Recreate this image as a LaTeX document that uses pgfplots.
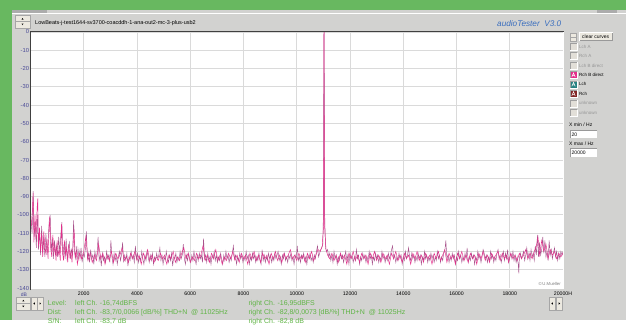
\documentclass[border=0pt]{standalone}
\usepackage{fontspec}
\setmainfont{Liberation Sans}
\usepackage{pgfplots}
\pgfplotsset{compat=1.18}
\definecolor{bggreen}{RGB}{104,184,96}
\definecolor{panel}{RGB}{210,210,208}
\definecolor{gridc}{RGB}{218,218,218}
\definecolor{ylab}{RGB}{72,72,150}
\definecolor{pinkc}{RGB}{228,46,138}
\definecolor{mauve}{RGB}{168,84,140}
\definecolor{txtgreen}{RGB}{96,180,70}
\definecolor{atblue}{RGB}{58,110,190}
\definecolor{dis}{RGB}{150,150,150}
\definecolor{boxoff}{RGB}{226,223,216}
\definecolor{btn}{RGB}{236,233,224}
\definecolor{tealc}{RGB}{40,130,130}
\definecolor{dred}{RGB}{130,40,40}
\begin{document}
\begin{tikzpicture}
\begin{scope}[x=1pt,y=-1pt]
\useasboundingbox (0,0) rectangle (626,320);
\clip (0,0) rectangle (626,320);
\fill[bggreen] (0,0) rectangle (626,320);
\fill[panel] (12,10) rectangle (626,320);
\fill[gray!65] (12,10) rectangle (47,12.5);
\fill[gray!65] (597,10) rectangle (617,12.5);
\draw[white,line width=0.8pt] (12,13.5) -- (626,13.5);
% top spinner
\fill[btn] (15,15) rectangle (30,28);
\draw[gray!70,line width=0.4pt] (15,15) rectangle (30,28);
\draw[gray!70,line width=0.4pt] (15,21.5) -- (30,21.5);
\fill[black] (21.5,19.5) -- (23.5,19.5) -- (22.5,18) -- cycle;
\fill[black] (21.5,23.5) -- (23.5,23.5) -- (22.5,25) -- cycle;
\node[anchor=base west,inner sep=0pt,font=\fontsize{5.5}{6}\selectfont] at (35,24) {LowBeats-j-test1644-sv3700-coacddh-1-ana-out2-mc-3-plus-usb2};
\node[anchor=base west,inner sep=0pt,text=atblue,font=\fontsize{8.2}{9}\selectfont\itshape] at (497,26.5) {audioTester\ \ V3.0};
\end{scope}

\begin{axis}[at={(31pt,-288pt)}, anchor=south west, scale only axis,
  width=532pt, height=256pt,
  xmin=20, xmax=20000, ymin=-140, ymax=0,
  axis line style={draw=none},
  axis background/.style={fill=white},
  scaled x ticks=false, scaled y ticks=false,
  xtick={2000,4000,...,20000},
  xticklabels={2000,4000,6000,8000,10000,12000,14000,16000,18000,20000H},
  ytick={-140,-130,...,0},
  yticklabels={-140,-130,-120,-110,-100,-90,-80,-70,-60,-50,-40,-30,-20,-10,0},
  grid=major, grid style={gridc,line width=0.9pt},
  major tick length=0pt, tick style={draw=none},
  xticklabel style={font=\fontsize{5.2}{6}\selectfont,anchor=north,inner sep=0pt,yshift=-3.6pt},
  yticklabel style={font=\fontsize{5.8}{6}\selectfont,text=ylab,anchor=east,inner sep=0pt,xshift=-1.8pt},
]
\addplot[mauve,line width=0.45pt] coordinates {
(20,-103)(60,-110)(100,-87)(140,-112)(180,-104)(220,-118)(260,-100)(300,-119)(340,-109)(380,-122)
(420,-106)(460,-121)(500,-112)(540,-123)(580,-110)(620,-122)(660,-115)(700,-104)(740,-100)(780,-120)
(820,-113)(860,-124)(900,-114)(940,-122)(980,-117)(1020,-123)(1060,-112)(1100,-121)(1140,-111)(1180,-104)
(1220,-122)(1260,-116)(1300,-124)(1340,-113)(1380,-125)(1420,-118)(1460,-115)(1500,-124)(1540,-119)(1580,-122)
(1620,-103)(1660,-121)(1700,-124)(1740,-117)(1780,-125)(1820,-119)(1860,-124)(1900,-118)(1940,-126)(1980,-121)
(2020,-123)(2060,-119)(2100,-109)(2140,-124)(2180,-121)(2220,-126)(2260,-119)(2300,-124)(2340,-122)(2380,-127)
(2420,-120)(2460,-124)(2500,-121)(2540,-112)(2580,-125)(2620,-122)(2660,-128)(2700,-121)(2740,-125)(2780,-123)
(2820,-126)(2860,-120)(2900,-124)(2940,-122)(2980,-126)(3020,-114)(3060,-123)(3100,-127)(3140,-121)(3180,-125)
(3220,-122)(3260,-127)(3300,-123)(3340,-120)(3380,-125)(3420,-122)(3460,-115)(3500,-126)(3540,-122)(3580,-125)
(3620,-121)(3660,-128)(3700,-123)(3740,-125)(3780,-120)(3820,-124)(3860,-122)(3900,-126)(3940,-117)(3980,-124)
(4020,-121)(4060,-126)(4100,-123)(4140,-125)(4180,-120)(4220,-124)(4260,-127)(4300,-122)(4340,-125)(4380,-120)
(4420,-123)(4460,-126)(4500,-122)(4540,-125)(4580,-121)(4620,-127)(4660,-123)(4700,-125)(4740,-121)(4780,-124)
(4820,-122)(4860,-118)(4900,-125)(4940,-122)(4980,-127)(5020,-123)(5060,-125)(5100,-120)(5140,-124)(5180,-126)
(5220,-122)(5260,-125)(5300,-121)(5340,-128)(5380,-123)(5420,-124)(5460,-121)(5500,-126)(5540,-123)(5580,-125)
(5620,-120)(5660,-124)(5700,-122)(5740,-116)(5780,-124)(5820,-127)(5860,-122)(5900,-125)(5940,-121)(5980,-124)
(6020,-126)(6060,-122)(6100,-125)(6140,-120)(6180,-124)(6220,-127)(6260,-122)(6300,-125)(6340,-121)(6380,-124)
(6420,-122)(6460,-126)(6500,-113)(6540,-124)(6580,-122)(6620,-126)(6660,-121)(6700,-125)(6740,-123)(6780,-127)
(6820,-122)(6860,-124)(6900,-120)(6940,-125)(6980,-122)(7020,-126)(7060,-123)(7100,-125)(7140,-121)(7180,-124)
(7220,-127)(7260,-122)(7300,-125)(7340,-120)(7380,-124)(7420,-122)(7460,-126)(7500,-123)(7540,-125)(7580,-121)
(7620,-117)(7660,-124)(7700,-122)(7740,-127)(7780,-123)(7820,-125)(7860,-121)(7900,-124)(7940,-122)(7980,-126)
(8020,-123)(8060,-125)(8100,-120)(8140,-124)(8180,-122)(8220,-127)(8260,-123)(8300,-125)(8340,-121)(8380,-124)
(8420,-122)(8460,-126)(8500,-123)(8540,-125)(8580,-121)(8620,-124)(8660,-127)(8700,-119)(8740,-125)(8780,-122)
(8820,-126)(8860,-123)(8900,-125)(8940,-121)(8980,-124)(9020,-122)(9060,-126)(9100,-123)(9140,-125)(9180,-121)
(9220,-124)(9260,-122)(9300,-120)(9340,-125)(9380,-123)(9420,-127)(9460,-122)(9500,-124)(9540,-121)(9580,-125)
(9620,-123)(9660,-126)(9700,-122)(9740,-124)(9780,-121)(9820,-125)(9860,-123)(9900,-127)(9940,-122)(9980,-124)
(10020,-117)(10060,-125)(10100,-123)(10140,-126)(10180,-122)(10220,-124)(10260,-121)(10300,-125)(10340,-123)(10380,-127)
(10420,-122)(10460,-124)(10500,-121)(10540,-125)(10580,-123)(10620,-126)(10660,-122)(10700,-124)(10740,-120)(10780,-117)
(10820,-123)(10860,-121)(10900,-119)(10940,-118)(10980,-116)(11000,-100)(11020,-2)(11025,0)(11030,-2)(11050,-100)
(11080,-118)(11120,-120)(11160,-119)(11200,-123)(11240,-121)(11280,-125)(11320,-122)(11360,-126)(11400,-120)(11440,-124)
(11480,-122)(11520,-127)(11560,-123)(11600,-125)(11640,-121)(11680,-124)(11720,-122)(11760,-126)(11800,-123)(11840,-120)
(11880,-125)(11920,-122)(11960,-127)(12000,-121)(12040,-124)(12080,-122)(12120,-126)(12160,-123)(12200,-125)(12240,-119)
(12280,-124)(12320,-122)(12360,-127)(12400,-123)(12440,-125)(12480,-121)(12520,-124)(12560,-122)(12600,-126)(12640,-123)
(12680,-125)(12720,-120)(12760,-124)(12800,-122)(12840,-127)(12880,-123)(12920,-125)(12960,-121)(13000,-124)(13040,-122)
(13080,-126)(13120,-123)(13160,-125)(13200,-120)(13240,-124)(13280,-122)(13320,-126)(13360,-123)(13400,-125)(13440,-121)
(13480,-124)(13520,-122)(13560,-119)(13600,-117)(13640,-124)(13680,-122)(13720,-126)(13760,-123)(13800,-125)(13840,-121)
(13880,-124)(13920,-122)(13960,-127)(14000,-123)(14040,-125)(14080,-120)(14120,-124)(14160,-122)(14200,-118)(14240,-123)
(14280,-125)(14320,-121)(14360,-124)(14400,-122)(14440,-126)(14480,-123)(14520,-125)(14560,-121)(14600,-124)(14640,-122)
(14680,-127)(14720,-123)(14760,-125)(14800,-120)(14840,-124)(14880,-122)(14920,-126)(14960,-123)(15000,-125)(15040,-121)
(15080,-124)(15120,-122)(15160,-126)(15200,-123)(15240,-125)(15280,-120)(15320,-124)(15360,-122)(15400,-126)(15440,-123)
(15480,-125)(15520,-121)(15560,-120)(15600,-114)(15640,-124)(15680,-122)(15720,-126)(15760,-123)(15800,-125)(15840,-121)
(15880,-124)(15920,-122)(15960,-127)(16000,-123)(16040,-125)(16080,-120)(16120,-124)(16160,-122)(16200,-126)(16240,-123)
(16280,-125)(16320,-121)(16360,-124)(16400,-118)(16440,-126)(16480,-123)(16520,-125)(16560,-121)(16600,-124)(16640,-122)
(16680,-127)(16720,-123)(16760,-125)(16800,-120)(16840,-124)(16880,-122)(16920,-126)(16960,-123)(17000,-119)(17040,-121)
(17080,-124)(17120,-122)(17160,-126)(17200,-123)(17240,-125)(17280,-120)(17320,-124)(17360,-122)(17400,-126)(17440,-123)
(17480,-125)(17520,-121)(17560,-119)(17600,-124)(17640,-122)(17680,-126)(17720,-123)(17760,-120)(17800,-125)(17840,-121)
(17880,-124)(17920,-119)(17960,-126)(18000,-123)(18040,-121)(18080,-124)(18120,-120)(18160,-125)(18200,-122)(18240,-126)
(18280,-123)(18320,-127)(18340,-132)(18360,-124)(18400,-121)(18440,-124)(18480,-122)(18520,-120)(18560,-125)(18600,-122)
(18640,-118)(18680,-124)(18720,-121)(18760,-125)(18800,-119)(18840,-123)(18880,-121)(18920,-125)(18960,-117)(19000,-122)
(19040,-111)(19080,-123)(19120,-115)(19160,-122)(19200,-119)(19240,-112)(19280,-121)(19320,-114)(19360,-123)(19400,-120)
(19440,-125)(19480,-114)(19520,-122)(19560,-119)(19600,-124)(19640,-121)(19680,-118)(19720,-123)(19760,-120)(19800,-125)
(19840,-121)(19880,-124)(19920,-120)(19960,-122)(20000,-120)
};
\addplot[pinkc,line width=0.45pt] coordinates {
(30,-106)(70,-98)(100,-88)(130,-115)(170,-100)(210,-113)(250,-96)(275,-91)(300,-117)(340,-107)
(380,-120)(420,-110)(460,-123)(500,-109)(540,-118)(580,-121)(620,-113)(660,-124)(700,-108)(725,-101)
(760,-118)(800,-123)(840,-111)(880,-121)(920,-117)(960,-125)(1000,-114)(1040,-122)(1080,-119)(1120,-125)
(1165,-105)(1200,-120)(1240,-125)(1280,-114)(1320,-122)(1360,-118)(1400,-126)(1440,-116)(1480,-123)(1520,-120)
(1560,-126)(1600,-117)(1640,-108)(1680,-123)(1720,-120)(1760,-127)(1840,-121)(1920,-124)(2000,-120)(2080,-112)
(2160,-125)(2240,-121)(2320,-126)(2400,-122)(2480,-125)(2560,-116)(2640,-124)(2720,-121)(2800,-127)(2880,-122)
(2960,-125)(3040,-120)(3120,-126)(3200,-121)(3280,-124)(3360,-122)(3440,-118)(3520,-125)(3600,-123)(3680,-126)
(3760,-121)(3840,-124)(3920,-120)(4000,-125)(4080,-122)(4160,-127)(4240,-121)(4320,-124)(4400,-119)(4480,-125)
(4560,-122)(4640,-126)(4720,-123)(4800,-125)(4880,-121)(4960,-124)(5040,-122)(5120,-127)(5200,-122)(5280,-124)
(5360,-120)(5440,-126)(5520,-123)(5600,-125)(5680,-121)(5760,-118)(5840,-124)(5920,-121)(6000,-126)(6080,-123)
(6160,-125)(6240,-121)(6320,-124)(6400,-122)(6480,-117)(6560,-125)(6640,-122)(6720,-126)(6800,-121)(6880,-124)
(6960,-119)(7040,-125)(7120,-122)(7200,-127)(7280,-123)(7360,-125)(7440,-121)(7520,-124)(7600,-120)(7680,-125)
(7760,-122)(7840,-126)(7920,-121)(8000,-124)(8080,-122)(8160,-127)(8240,-121)(8320,-124)(8400,-120)(8480,-125)
(8560,-122)(8640,-126)(8720,-121)(8800,-124)(8880,-122)(8960,-127)(9040,-121)(9120,-124)(9200,-120)(9280,-125)
(9360,-122)(9440,-126)(9520,-121)(9600,-124)(9680,-122)(9760,-119)(9840,-124)(9920,-122)(10000,-125)(10080,-121)
(10160,-124)(10240,-122)(10320,-126)(10400,-121)(10480,-124)(10560,-120)(10640,-125)(10720,-122)(10800,-119)(10880,-120)
(10960,-117)(11010,-105)(11020,-3)(11025,0)(11030,-3)(11040,-105)(11100,-119)(11160,-122)(11240,-124)(11320,-121)
(11400,-125)(11480,-122)(11560,-126)(11640,-121)(11720,-124)(11800,-122)(11880,-127)(11960,-121)(12040,-124)(12120,-120)
(12200,-125)(12280,-122)(12360,-126)(12440,-121)(12520,-124)(12600,-122)(12680,-127)(12760,-121)(12840,-124)(12920,-120)
(13000,-125)(13080,-122)(13160,-126)(13240,-121)(13320,-124)(13400,-122)(13480,-127)(13560,-121)(13640,-124)(13720,-120)
(13800,-125)(13880,-122)(13960,-126)(14040,-121)(14120,-124)(14200,-122)(14280,-127)(14360,-121)(14440,-124)(14520,-120)
(14600,-125)(14680,-122)(14760,-126)(14840,-121)(14920,-124)(15000,-122)(15080,-127)(15160,-121)(15240,-124)(15320,-120)
(15400,-125)(15480,-122)(15560,-119)(15640,-126)(15720,-121)(15800,-124)(15880,-122)(15960,-127)(16040,-121)(16120,-124)
(16200,-120)(16280,-125)(16360,-122)(16440,-126)(16520,-121)(16600,-124)(16680,-122)(16760,-127)(16840,-121)(16920,-124)
(17000,-120)(17080,-125)(17160,-122)(17240,-126)(17320,-121)(17400,-124)(17480,-122)(17560,-120)(17640,-125)(17720,-121)
(17800,-124)(17880,-122)(17960,-126)(18040,-121)(18120,-124)(18200,-122)(18280,-125)(18360,-121)(18440,-124)(18520,-122)
(18600,-119)(18680,-124)(18760,-121)(18840,-124)(18920,-120)(19000,-117)(19060,-112)(19120,-122)(19200,-114)(19280,-120)
(19360,-116)(19440,-124)(19520,-119)(19600,-122)(19680,-120)(19760,-124)(19840,-121)(19920,-123)(20000,-121)
};
\end{axis}

\begin{scope}[x=1pt,y=-1pt]
% plot frame
\draw[black!75,line width=1pt] (30.5,290) -- (30.5,31.5) -- (563.5,31.5);
\draw[white,line width=0.8pt] (563.6,32) -- (563.6,288.5) -- (31,288.5);
\node[anchor=east,inner sep=0pt,text=gray,font=\fontsize{4.3}{5}\selectfont] at (561,283.7) {\copyright\,U.Mueller};
\node[inner sep=0pt,text=ylab,font=\fontsize{5}{6}\selectfont] at (24,294.5) {dB};
% right panel
\fill[btn] (570,33) rectangle (576.5,41);
\draw[gray!70,line width=0.4pt] (570,33) rectangle (576.5,41) (570,37) -- (576.5,37);
\fill[btn] (579,32.7) rectangle (612.5,40.7);
\draw[gray!80,line width=0.5pt] (579,40.7) -- (612.5,40.7) -- (612.5,32.7);
\draw[white,line width=0.5pt] (579,40.7) -- (579,32.7) -- (612.5,32.7);
\node[inner sep=0pt,font=\fontsize{5}{6}\selectfont] at (595.7,36.8) {clear curves};
\foreach \yy/\lab/\fc/\tc in {46.7/Lch A/boxoff/dis, 56/Rch A/boxoff/dis, 65.7/Lch B direct/boxoff/dis, 75/Rch B direct/pinkc/black, 84.3/Lch/tealc/black, 93.7/Rch/dred/black, 103.3/unknown/boxoff/dis, 113/unknown/boxoff/dis}{
  \fill[\fc] (570,\yy-3.5) rectangle (577,\yy+3.5);
  \draw[gray!75,line width=0.4pt] (570,\yy+3.5) -- (570,\yy-3.5) -- (577,\yy-3.5);
  \draw[white,line width=0.4pt] (577,\yy-3.5) -- (577,\yy+3.5) -- (570,\yy+3.5);
  \node[anchor=west,inner sep=0pt,text=\tc,font=\fontsize{4.5}{5}\selectfont] at (579,\yy) {\lab};
}
\foreach \yy in {75,84.3,93.7}{
  \draw[white,line width=0.5pt] (571.8,\yy+2) -- (573.5,\yy-2) -- (575.2,\yy+2) (572.5,\yy+0.6) -- (574.5,\yy+0.6);
}
\node[anchor=west,inner sep=0pt,font=\fontsize{5}{6}\selectfont] at (569,125) {X min / Hz};
\fill[white] (570,130) rectangle (597,138.3);
\draw[gray!80,line width=0.5pt] (570,138.3) -- (570,130) -- (597,130);
\node[anchor=west,inner sep=0pt,font=\fontsize{5}{6}\selectfont] at (571.5,134.3) {20};
\node[anchor=west,inner sep=0pt,font=\fontsize{5}{6}\selectfont] at (569,144) {X max / Hz};
\fill[white] (570,148.3) rectangle (597,157.3);
\draw[gray!80,line width=0.5pt] (570,157.3) -- (570,148.3) -- (597,148.3);
\node[anchor=west,inner sep=0pt,font=\fontsize{5}{6}\selectfont] at (571.5,152.8) {20000};
% bottom buttons
\fill[btn] (16,297) rectangle (30.5,310);
\draw[gray!70,line width=0.4pt] (16,297) rectangle (30.5,310) (16,303.5) -- (30.5,303.5);
\fill[black] (22.3,301.3) -- (24.3,301.3) -- (23.3,299.8) -- cycle;
\fill[black] (22.3,305.7) -- (24.3,305.7) -- (23.3,307.2) -- cycle;
\foreach \xa in {31,37.3,549,556.5}{
  \fill[btn] (\xa,297) rectangle (\xa+6,310);
  \draw[gray!70,line width=0.4pt] (\xa,297) rectangle (\xa+6,310);
}
\foreach \xa in {31,549}{
  \fill[black] (\xa+3.8,302.3) -- (\xa+3.8,304.7) -- (\xa+2.4,303.5) -- cycle;
}
\foreach \xa in {37.3,556.5}{
  \fill[black] (\xa+2.2,302.3) -- (\xa+2.2,304.7) -- (\xa+3.6,303.5) -- cycle;
}
% status text
\begin{scope}[every node/.style={anchor=base west,inner sep=0pt,text=txtgreen,font=\fontsize{7}{8}\selectfont}]
\node at (47.7,305) {Level:};
\node at (75,305) {left Ch. -16,74dBFS};
\node at (248.3,305) {right Ch. -16,95dBFS};
\node at (47.7,314.3) {Dist:};
\node at (75,314.3) {left Ch. -83,7/0,0066 [dB/\%] THD+N\ \ @ 11025Hz};
\node at (248.3,314.3) {right Ch. -82,8/0,0073 [dB/\%] THD+N\ \ @ 11025Hz};
\node at (47.7,323.6) {S/N:};
\node at (75,323.6) {left Ch. -83,7 dB};
\node at (248.3,323.6) {right Ch. -82,8 dB};
\end{scope}
\end{scope}
\end{tikzpicture}
\end{document}
